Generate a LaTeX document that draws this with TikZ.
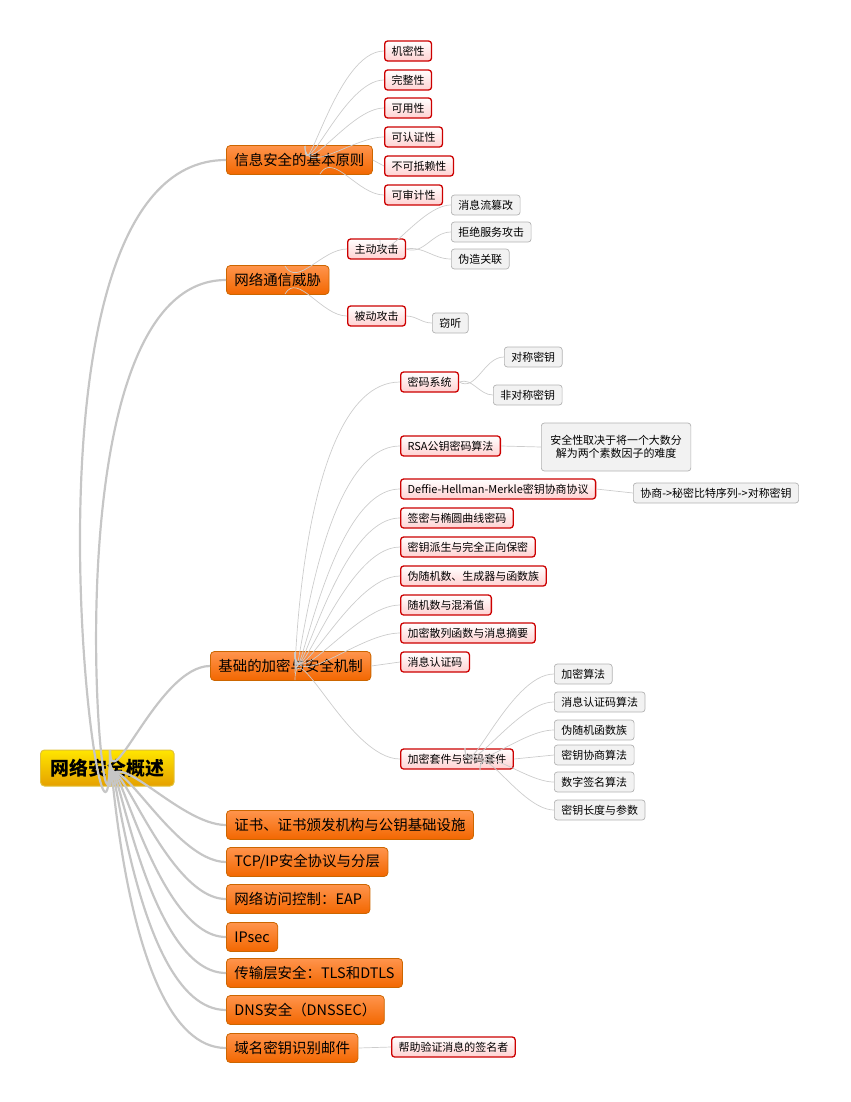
\documentclass[tikz,border=0pt]{standalone}
\usepackage{fontspec}
\setmainfont{Noto Sans CJK SC}
\begin{document}
\begin{tikzpicture}[x=1bp,y=-1bp,
 root/.style={draw=yellow!50!brown,line width=1pt,rounded corners=4pt,top color=yellow!80!orange,bottom color=orange!60!yellow!90!black,font=\fontsize{19}{21}\selectfont\bfseries,minimum height=36bp,inner xsep=10bp,anchor=west},
 lone/.style={draw=orange!80!black,line width=0.8pt,rounded corners=4pt,top color=orange!80!red!70!white,bottom color=orange!85!red!95!black,font=\fontsize{14.5}{16}\selectfont,minimum height=29bp,inner xsep=8bp,anchor=west},
 ltwo/.style={draw=red!80!black,line width=1.3pt,rounded corners=3pt,top color=white,bottom color=red!18,font=\fontsize{11}{13}\selectfont,minimum height=20bp,inner xsep=7bp,anchor=west},
 lthree/.style={draw=gray!60,line width=0.7pt,rounded corners=3pt,fill=gray!10,font=\fontsize{11}{13}\selectfont,minimum height=20bp,inner xsep=7bp,anchor=west},
 thick/.style={draw=gray!45,line width=2.2pt},
 thin/.style={draw=gray!40,line width=0.7pt}]
\useasboundingbox (0,0) rectangle (851,1102);
\node[root] (r) at (40,768) {网络安全概述};
\node[lone] (a) at (226,160) {信息安全的基本原则};
\node[lone] (b) at (226,280) {网络通信威胁};
\node[lone] (c) at (210,666) {基础的加密与安全机制};
\node[lone] (d) at (226,825) {证书、证书颁发机构与公钥基础设施};
\node[lone] (e) at (226,862) {TCP/IP安全协议与分层};
\node[lone] (f) at (226,899) {网络访问控制：EAP};
\node[lone] (g) at (226,937) {IPsec};
\node[lone] (h) at (226,973) {传输层安全：TLS和DTLS};
\node[lone] (i) at (226,1010) {DNS安全（DNSSEC）};
\node[lone] (j) at (226,1048) {域名密钥识别邮件};
\coordinate (ru) at (110,750);
\coordinate (rd) at (110,786);
\foreach \n in {a,b,c} \draw[thick] (ru) to[out=-90,in=180] (\n.west);
\foreach \n in {d,e,f,g,h,i,j} \draw[thick] (rd) to[out=90,in=180] (\n.west);
% principles
\node[ltwo] (a1) at (384,51) {机密性};
\node[ltwo] (a2) at (384,80) {完整性};
\node[ltwo] (a3) at (384,108) {可用性};
\node[ltwo] (a4) at (384,137) {可认证性};
\node[ltwo] (a5) at (384,166) {不可抵赖性};
\node[ltwo] (a6) at (384,195) {可审计性};
\coordinate (ao) at (305,146);
\foreach \n in {a1,a2,a3,a4} \draw[thin] (ao) to[out=-90,in=180] (\n.west);
\draw[thin] (a.east) -- (a5.west);
\draw[thin] (320,174) to[out=60,in=180] (a6.west);
% threats
\node[ltwo] (b1) at (347,249) {主动攻击};
\node[ltwo] (b2) at (347,316) {被动攻击};
\draw[thin] (285,266) to[out=-60,in=180] (b1.west);
\draw[thin] (285,294) to[out=60,in=180] (b2.west);
\node[lthree] (b11) at (451,205) {消息流篡改};
\node[lthree] (b12) at (451,232) {拒绝服务攻击};
\node[lthree] (b13) at (451,259) {伪造关联};
\node[lthree] (b21) at (432,323) {窃听};
\draw[thin] (380,240) to[out=-90,in=180] (b11.west);
\draw[thin] (b1.east) to[out=-20,in=180] (b12.west);
\draw[thin] (b1.east) to[out=10,in=180] (b13.west);
\draw[thin] (b2.east) to[out=0,in=180] (b21.west);
% crypto
\node[ltwo] (c1) at (400,382) {密码系统};
\node[ltwo] (c2) at (400,446) {RSA公钥密码算法};
\node[ltwo] (c3) at (400,489) {Deffie-Hellman-Merkle密钥协商协议};
\node[ltwo] (c4) at (400,518) {签密与椭圆曲线密码};
\node[ltwo] (c5) at (400,547) {密钥派生与完全正向保密};
\node[ltwo] (c6) at (400,576) {伪随机数、生成器与函数族};
\node[ltwo] (c7) at (400,605) {随机数与混淆值};
\node[ltwo] (c8) at (400,633) {加密散列函数与消息摘要};
\node[ltwo] (c9) at (400,662) {消息认证码};
\node[ltwo] (c10) at (400,759) {加密套件与密码套件};
\coordinate (co) at (295,652);
\foreach \n in {c1,c2,c3,c4,c5,c6,c7,c8} \draw[thin] (co) to[out=-90,in=180] (\n.west);
\draw[thin] (c.east) -- (c9.west);
\draw[thin] (295,680) to[out=90,in=180] (c10.west);
\node[lthree] (c11) at (504,357) {对称密钥};
\node[lthree] (c12) at (493,395) {非对称密钥};
\draw[thin] (c1.east) to[out=-30,in=180] (c11.west);
\draw[thin] (c1.east) to[out=20,in=180] (c12.west);
\node[lthree,align=center,minimum height=48bp,inner xsep=9bp] (c21) at (541,447) {安全性取决于将一个大数分\\解为两个素数因子的难度};
\draw[thin] (c2.east) -- (c21.west);
\node[lthree] (c31) at (633,493) {协商->秘密比特序列->对称密钥};
\draw[thin] (c3.east) -- (c31.west);
\node[lthree] (s1) at (554,674) {加密算法};
\node[lthree] (s2) at (554,702) {消息认证码算法};
\node[lthree] (s3) at (554,730) {伪随机函数族};
\node[lthree] (s4) at (554,755) {密钥协商算法};
\node[lthree] (s5) at (554,782) {数字签名算法};
\node[lthree] (s6) at (554,810) {密钥长度与参数};
\coordinate (so) at (465,748);
\foreach \n in {s1,s2,s3} \draw[thin] (so) to[out=-90,in=180] (\n.west);
\draw[thin] (c10.east) -- (s4.west);
\coordinate (so2) at (480,770);
\foreach \n in {s5,s6} \draw[thin] (so2) to[out=90,in=180] (\n.west);
\node[ltwo] (j1) at (391,1047) {帮助验证消息的签名者};
\draw[thin] (j.east) -- (j1.west);
\end{tikzpicture}
\end{document}
